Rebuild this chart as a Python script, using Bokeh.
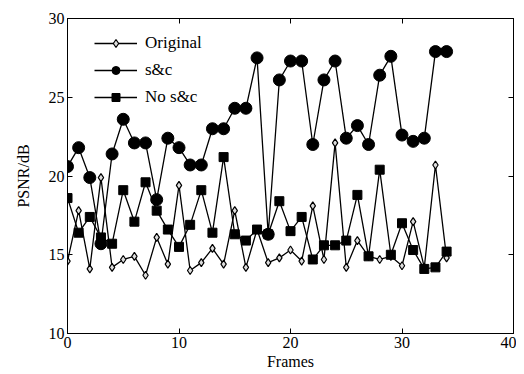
from bokeh.plotting import figure
from bokeh.models import LinearAxis, Range1d, FixedTicker, Legend, LegendItem
from bokeh.embed import file_html
from bokeh.resources import INLINE

frames = list(range(35))
original = [14.6, 17.8, 14.1, 19.9, 14.2, 14.7, 14.9, 13.7, 16.1, 14.4,
            19.4, 14.0, 14.5, 15.4, 14.4, 17.8, 14.2, 16.6, 14.5, 14.8,
            15.3, 14.6, 18.1, 14.7, 22.1, 14.2, 15.9, 14.9, 14.7, 14.9,
            14.3, 17.1, 14.2, 20.7, 14.8]
s_and_c = [20.6, 21.8, 19.9, 15.7, 21.4, 23.6, 22.1, 22.1, 18.5, 22.4,
           21.8, 20.7, 20.7, 23.0, 23.0, 24.3, 24.3, 27.5, 16.3, 26.1,
           27.3, 27.3, 22.0, 26.1, 27.3, 22.4, 23.2, 22.0, 26.4, 27.6,
           22.6, 22.2, 22.4, 27.9, 27.9]
no_s_and_c = [18.6, 16.4, 17.4, 16.1, 15.7, 19.1, 17.1, 19.6, 17.8, 16.6,
              15.5, 16.9, 19.1, 16.4, 21.2, 16.3, 15.9, 16.6, 16.3, 18.4,
              16.5, 17.4, 14.7, 15.6, 15.6, 15.9, 18.8, 14.9, 20.4, 15.0,
              17.0, 15.3, 14.1, 14.2, 15.2]
x_ticks = [0, 10, 20, 30, 40]
y_ticks = [10, 15, 20, 25, 30]
series_names = ["Original", "s&c", "No s&c"]

FONT = "Liberation Serif"

p = figure(width=516, height=372, x_range=Range1d(0, 40), y_range=Range1d(10, 30),
           output_backend="svg", toolbar_location=None,
           min_border_left=67, min_border_right=3, min_border_top=18, min_border_bottom=39)
p.xgrid.visible = False
p.ygrid.visible = False
p.outline_line_color = "black"
p.outline_line_width = 1
p.background_fill_color = "white"
p.border_fill_color = "white"

def style_axis(ax, ticks, show_labels=True):
    ax.ticker = FixedTicker(ticks=ticks)
    ax.major_tick_in = 5
    ax.major_tick_out = 0
    ax.minor_tick_line_color = None
    ax.axis_line_color = "black"
    ax.major_tick_line_color = "black"
    ax.major_label_text_font = FONT
    ax.major_label_text_color = "black"
    ax.major_label_text_font_size = "16px"
    if show_labels:
        ax.major_label_standoff = 3
    else:
        ax.major_label_overrides = {t: "" for t in ticks}
        ax.major_label_standoff = 0

style_axis(p.xaxis[0], x_ticks)
style_axis(p.yaxis[0], y_ticks)
p.xaxis.axis_label = "Frames"
p.yaxis.axis_label = "PSNR/dB"
for ax in (p.xaxis[0], p.yaxis[0]):
    ax.axis_label_text_font = FONT
    ax.axis_label_text_font_size = "16px"
    ax.axis_label_text_font_style = "normal"
    ax.axis_label_text_color = "black"
p.xaxis[0].axis_label_standoff = 2
p.yaxis[0].axis_label_standoff = 14

top = LinearAxis()
style_axis(top, x_ticks, show_labels=False)
p.add_layout(top, "above")
right = LinearAxis()
style_axis(right, y_ticks, show_labels=False)
p.add_layout(right, "right")

l0 = p.line(frames, original, line_color="black", line_width=1.3)
m0 = p.scatter(frames, original, marker="diamond", size=8, fill_color="#dddddd",
               line_color="black", line_width=1.2)
l1 = p.line(frames, s_and_c, line_color="black", line_width=1.3)
m1 = p.scatter(frames, s_and_c, marker="circle", size=12, fill_color="black",
               line_color="black")
l2 = p.line(frames, no_s_and_c, line_color="black", line_width=1.3)
m2 = p.scatter(frames, no_s_and_c, marker="square", size=9, fill_color="black",
               line_color="black")

legend = Legend(items=[
    LegendItem(label=series_names[0], renderers=[l0, m0]),
    LegendItem(label=series_names[1], renderers=[l1, m1]),
    LegendItem(label=series_names[2], renderers=[l2, m2]),
], location=(27, 226))
legend.margin = 0
legend.padding = 5
legend.spacing = 7
legend.glyph_width = 43
legend.glyph_height = 20
legend.label_height = 20
legend.label_standoff = 8
legend.label_text_font = FONT
legend.label_text_font_size = "17px"
legend.label_text_color = "black"
legend.border_line_color = None
legend.background_fill_alpha = 0
p.add_layout(legend, "center")

open("out.html", "w").write(file_html(p, INLINE))
